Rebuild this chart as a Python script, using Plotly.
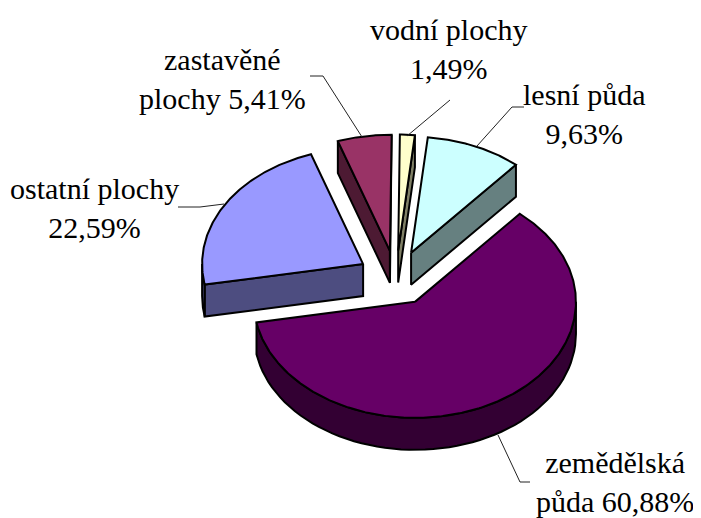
import numpy as np
import plotly.graph_objects as go

# data (clockwise from the top of the pie)
categories = ["vodní plochy", "lesní půda", "zemědělská půda", "ostatní plochy", "zastavěné plochy"]
values = [1.49, 9.63, 60.88, 22.59, 5.41]
top_colors = ["#ffffcc", "#ccffff", "#660066", "#9999ff", "#993366"]
side_colors = ["#808066", "#668080", "#330033", "#4d4d80", "#4d1a33"]

# pie geometry in page pixels
W, H = 701, 518
PAGE_MARGIN = 8
CX, CY = 396, 278
RX, RY = 161, 116
DEPTH = 32
EXPLODE = 0.237
START = 0.6
LW = 2


def pt(deg, ax, ay, dz=0.0):
    t = np.radians(deg)
    return ax + RX * np.sin(t), ay - RY * np.cos(t) + dz


def poly(fig, x, y, color):
    fig.add_trace(go.Scatter(x=list(x), y=list(y), mode="lines", fill="toself", fillcolor=color,
                             line=dict(color="black", width=LW), hoverinfo="skip", showlegend=False))


fig = go.Figure()

edges = START + np.concatenate([[0], np.cumsum(values)]) * 3.6
draw_order = [3, 4, 0, 1, 2]
for i in draw_order:
    a0, a1 = edges[i], edges[i + 1]
    mid = np.radians((a0 + a1) / 2)
    ax = CX + EXPLODE * RX * np.sin(mid)
    ay = CY - EXPLODE * RY * np.cos(mid)
    # visible cut faces
    for a, vis in ((a0, np.sin(np.radians(a0)) < 0), (a1, np.sin(np.radians(a1)) > 0)):
        if vis:
            rx, ry = pt(a, ax, ay)
            poly(fig, [ax, rx, rx, ax, ax], [ay, ry, ry + DEPTH, ay + DEPTH, ay], side_colors[i])
    # visible part of the rim
    lo, hi = max(a0, 90), min(a1, 270)
    if hi > lo:
        th = np.linspace(lo, hi, 60)
        xs, ys = pt(th, ax, ay)
        poly(fig, np.r_[xs, xs[::-1], xs[0]], np.r_[ys, ys[::-1] + DEPTH, ys[0]], side_colors[i])
    # top face
    th = np.linspace(a0, a1, max(4, int((a1 - a0) * 2)))
    xs, ys = pt(th, ax, ay)
    poly(fig, np.r_[ax, xs, ax], np.r_[ay, ys, ay], top_colors[i])

# leader lines (page pixels)
leaders = [
    ([310, 323, 362], [76, 76, 137]),
    ([450, 407], [100, 136]),
    ([524, 512, 477], [107, 107, 146]),
    ([178, 200, 224], [207, 207, 204]),
    ([498, 520, 530], [435, 482, 482]),
]
for lx, ly in leaders:
    fig.add_trace(go.Scatter(x=lx, y=ly, mode="lines", line=dict(color="#222222", width=1),
                             hoverinfo="skip", showlegend=False))


def fmt(v):
    return f"{v:.2f}".replace(".", ",") + "%"


labels = [
    (449, 49, f"vodní plochy<br>{fmt(values[0])}"),
    (584, 114, f"lesní půda<br>{fmt(values[1])}"),
    (615, 482, f"zemědělská<br>půda {fmt(values[2])}"),
    (94, 208, f"ostatní plochy<br>{fmt(values[3])}"),
    (222, 79, f"zastavěné<br>plochy {fmt(values[4])}"),
]
for x, y, t in labels:
    fig.add_annotation(x=x, y=y, xref="x", yref="y", text=t, showarrow=False, align="center",
                       font=dict(family="Liberation Serif", size=30, color="black"))

fig.update_layout(
    width=W - PAGE_MARGIN, height=H - PAGE_MARGIN, autosize=False, margin=dict(l=0, r=0, t=0, b=0),
    paper_bgcolor="white", plot_bgcolor="white", showlegend=False,
    xaxis=dict(range=[PAGE_MARGIN, W], visible=False, fixedrange=True),
    yaxis=dict(range=[H, PAGE_MARGIN], visible=False, fixedrange=True),
)
fig.write_html("out.html", config=dict(displayModeBar=False))
